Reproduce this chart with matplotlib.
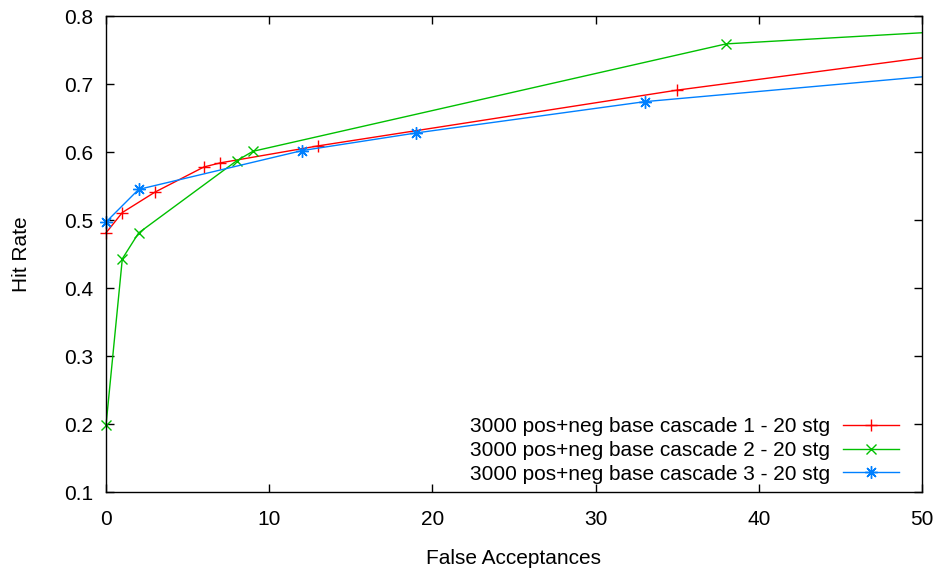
import numpy as np
import matplotlib
matplotlib.use('Agg')
import matplotlib.pyplot as plt
from matplotlib.patches import Rectangle

# data (last points lie beyond the x range, clipped)
fa_1 = [0, 1, 3, 6, 7, 13, 35, 60]
hr_1 = [0.481, 0.511, 0.541, 0.578, 0.584, 0.609, 0.691, 0.770]
fa_2 = [0, 1, 2, 8, 9, 38, 60]
hr_2 = [0.198, 0.443, 0.481, 0.587, 0.601, 0.759, 0.789]
fa_3 = [0, 2, 12, 19, 33, 60]
hr_3 = [0.497, 0.545, 0.602, 0.628, 0.674, 0.732]

labels = ['3000 pos+neg base cascade 1 - 20 stg',
          '3000 pos+neg base cascade 2 - 20 stg',
          '3000 pos+neg base cascade 3 - 20 stg']
x_ticks = [0, 10, 20, 30, 40, 50]
y_ticks = [0.1, 0.2, 0.3, 0.4, 0.5, 0.6, 0.7, 0.8]

plt.rcParams['font.family'] = ['Liberation Sans', 'DejaVu Sans']
plt.rcParams['font.size'] = 15

fig = plt.figure(figsize=(9.39, 5.72), dpi=100)
ax = fig.add_axes([106/939, 1 - 492/572, (922-106)/939, (492-16)/572])

# clip lines at the right edge only, so markers on x=0 stay whole
clip = Rectangle((-0.03, -0.03), 1.03, 1.06, transform=ax.transAxes)

l1, = ax.plot(fa_1, hr_1, color='#ff0000', marker='+', markersize=9, lw=1, mew=1, label=labels[0])
l2, = ax.plot(fa_2, hr_2, color='#00c000', marker='x', markersize=7, lw=1, mew=1, label=labels[1])
l3, = ax.plot(fa_3, hr_3, color='#0080ff', marker=(8, 2, 0), markersize=9, lw=1, mew=1, label=labels[2])
for l in (l1, l2, l3):
    l.set_clip_path(clip)

ax.set_xlim(0, 50)
ax.set_ylim(0.1, 0.8)
ax.set_xticks(x_ticks)
ax.set_yticks(y_ticks)
ax.set_yticklabels(['%.1f' % v for v in y_ticks])
ax.tick_params(direction='in', top=True, right=True, length=6, width=1)
ax.tick_params(axis='x', pad=13)
ax.tick_params(axis='y', pad=9)
for s in ax.spines.values():
    s.set_linewidth(1)

ax.set_xlabel('False Acceptances', labelpad=14)
ax.set_ylabel('Hit Rate', labelpad=24)

leg = ax.legend(loc='lower right', bbox_to_anchor=(0.982, 0.0), frameon=False,
                markerfirst=False, handlelength=2.7, labelspacing=0.22,
                borderaxespad=0, handletextpad=0.6, fontsize=15)
for t in leg.get_texts():
    t.set_ha('right')

fig.savefig('out.png', dpi=100)
